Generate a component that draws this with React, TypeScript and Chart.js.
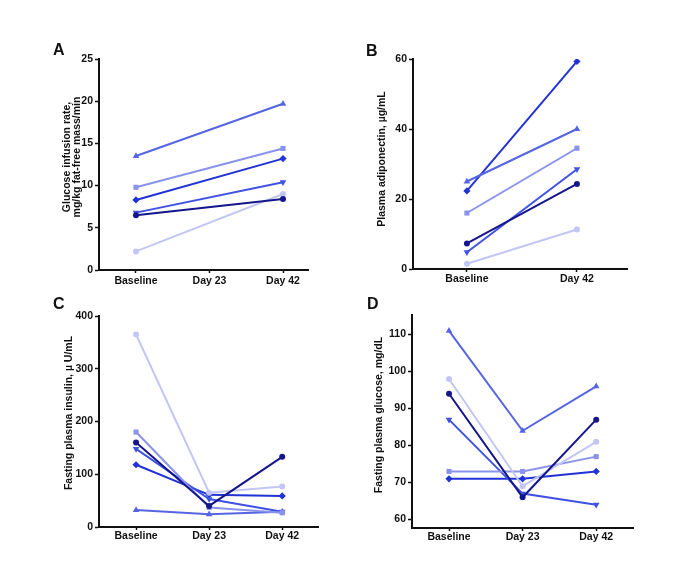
import React, { useEffect, useRef } from "react";
import { Chart, registerables } from "chart.js";

Chart.register(...registerables);

// ---------- Data ----------
const CATS_3 = ["Baseline", "Day 23", "Day 42"];
const CATS_2 = ["Baseline", "Day 42"];

const SERIES_NAMES = ["Subject 6", "Subject 1", "Subject 2", "Subject 3", "Subject 4", "Subject 5"];
const SERIES_COLORS = ["#15168c", "#c3c6f4", "#8a93ec", "#5565e3", "#3f52e4", "#2233d6"];
const SERIES_MARKERS = ["circle", "circle", "rect", "triangle", "triangle", "rectRot"];
const SERIES_ROTATION = [0, 0, 0, 0, 180, 0];
const SERIES_RADIUS = [3, 3, 3.6, 3.8, 3.8, 3.6];

// Panel A: glucose infusion rate (no Day 23 measurement)
const A_DARK = [6.5, null, 8.4];
const A_LIGHT = [2.2, null, 9.0];
const A_SQUARE = [9.8, null, 14.4];
const A_TRIUP = [13.5, null, 19.7];
const A_TRIDOWN = [6.8, null, 10.4];
const A_DIAMOND = [8.3, null, 13.2];

// Panel B: plasma adiponectin
const B_DARK = [7.3, 24.3];
const B_LIGHT = [1.5, 11.3];
const B_SQUARE = [16, 34.5];
const B_TRIUP = [25, 40];
const B_TRIDOWN = [4.8, 28.5];
const B_DIAMOND = [22.3, 59.3];

// Panel C: fasting plasma insulin
const C_DARK = [160, 40, 133];
const C_LIGHT = [365, 65, 77];
const C_SQUARE = [180, 37, 27];
const C_TRIUP = [32, 24, 29];
const C_TRIDOWN = [148, 53, 29];
const C_DIAMOND = [118, 61, 59];

// Panel D: fasting plasma glucose
const D_DARK = [94, 66, 87];
const D_LIGHT = [98, 69, 81];
const D_SQUARE = [73, 73, 77];
const D_TRIUP = [111, 84, 96];
const D_TRIDOWN = [87, 67, 64];
const D_DIAMOND = [71, 71, 73];

const A_TICKS = [0, 5, 10, 15, 20, 25];
const B_TICKS = [0, 20, 40, 60];
const C_TICKS = [0, 100, 200, 300, 400];
const D_TICKS = [60, 70, 80, 90, 100, 110];

const A_TITLE = ["Glucose infusion rate,", "mg/kg fat-free mass/min"];
const B_TITLE = ["Plasma adiponectin, µg/mL"];
const C_TITLE = ["Fasting plasma insulin, µ U/mL"];
const D_TITLE = ["Fasting plasma glucose, mg/dL"];

const FONT_FAMILY = "'Liberation Sans', Arial, Helvetica, sans-serif";

type Panel = {
  letter: string;
  cats: string[];
  series: (number | null)[][];
  yTicks: number[];
  yMin: number;
  yMax: number;
  xMin: number;
  xMax: number;
  title: string[];
  left: number;
  top: number;
  width: number;
  height: number;
  yAxisWidth: number;
  xAxisHeight: number;
  padTop: number;
  padRight: number;
  titleX: number;
  titleY: number;
  xLabelPad: number;
  letterX: number;
  letterY: number;
};

const PANELS: Panel[] = [
  {
    letter: "A",
    cats: CATS_3,
    series: [A_DARK, A_LIGHT, A_SQUARE, A_TRIUP, A_TRIDOWN, A_DIAMOND],
    yTicks: A_TICKS,
    yMin: 0,
    yMax: 25,
    xMin: -0.503,
    xMax: 2.34,
    title: A_TITLE,
    left: 0,
    top: 30,
    width: 340,
    height: 275,
    yAxisWidth: 99,
    xAxisHeight: 35,
    padTop: 29,
    padRight: 32,
    titleX: 67,
    titleY: 127,
    xLabelPad: 3,
    letterX: 53,
    letterY: 42,
  },
  {
    letter: "B",
    cats: CATS_2,
    series: [B_DARK, B_LIGHT, B_SQUARE, B_TRIUP, B_TRIDOWN, B_DIAMOND],
    yTicks: B_TICKS,
    yMin: 0,
    yMax: 60,
    xMin: -0.49,
    xMax: 1.455,
    title: B_TITLE,
    left: 330,
    top: 30,
    width: 340,
    height: 275,
    yAxisWidth: 83,
    xAxisHeight: 36,
    padTop: 29,
    padRight: 43,
    titleX: 52,
    titleY: 129,
    xLabelPad: 2,
    letterX: 366,
    letterY: 43,
  },
  {
    letter: "C",
    cats: CATS_3,
    series: [C_DARK, C_LIGHT, C_SQUARE, C_TRIUP, C_TRIDOWN, C_DIAMOND],
    yTicks: C_TICKS,
    yMin: 0,
    yMax: 400,
    xMin: -0.507,
    xMax: 2.49,
    title: C_TITLE,
    left: 0,
    top: 290,
    width: 340,
    height: 275,
    yAxisWidth: 99,
    xAxisHeight: 38,
    padTop: 26,
    padRight: 22,
    titleX: 69.5,
    titleY: 123,
    xLabelPad: 1,
    letterX: 53,
    letterY: 296,
  },
  {
    letter: "D",
    cats: CATS_3,
    series: [D_DARK, D_LIGHT, D_SQUARE, D_TRIUP, D_TRIDOWN, D_DIAMOND],
    yTicks: D_TICKS,
    yMin: 57.7,
    yMax: 115.3,
    xMin: -0.503,
    xMax: 2.5,
    title: D_TITLE,
    left: 330,
    top: 290,
    width: 345,
    height: 275,
    yAxisWidth: 82,
    xAxisHeight: 37,
    padTop: 25,
    padRight: 42,
    titleX: 49,
    titleY: 125,
    xLabelPad: 1,
    letterX: 367,
    letterY: 296,
  },
];

// Draws the rotated y-axis title centred where the reference has it
const yTitlePlugin = {
  id: "yTitle",
  afterDraw(chart: any, _args: any, opts: any) {
    const lines: string[] = opts.lines || [];
    const ctx = chart.ctx;
    ctx.save();
    ctx.translate(opts.x, opts.y);
    ctx.rotate(-Math.PI / 2);
    ctx.fillStyle = "#111";
    ctx.font = `bold 10.5px ${FONT_FAMILY}`;
    ctx.textAlign = "center";
    ctx.textBaseline = "middle";
    const lh = 10.5;
    lines.forEach((line, i) => {
      ctx.fillText(line, 0, i * lh);
    });
    ctx.restore();
  },
};

function buildConfig(p: Panel): any {
  const datasets = p.series.map((values, si) => ({
    label: SERIES_NAMES[si],
    data: values
      .map((v, i) => (v === null ? null : { x: i, y: v }))
      .filter((pt) => pt !== null),
    borderColor: SERIES_COLORS[si],
    backgroundColor: SERIES_COLORS[si],
    borderWidth: 2,
    pointStyle: SERIES_MARKERS[si],
    pointRotation: SERIES_ROTATION[si],
    pointRadius: SERIES_RADIUS[si],
    pointBorderWidth: 0,
    pointHoverRadius: SERIES_RADIUS[si],
    tension: 0,
    fill: false,
  }));

  const tickFont = { family: FONT_FAMILY, size: 10.5, weight: "bold" as const, lineHeight: 1 };

  return {
    type: "line",
    data: { datasets },
    plugins: [yTitlePlugin],
    options: {
      animation: false,
      responsive: false,
      maintainAspectRatio: false,
      devicePixelRatio: 1,
      events: [],
      layout: { padding: { top: p.padTop, right: p.padRight, left: 0, bottom: 0 } },
      plugins: {
        legend: { display: false },
        tooltip: { enabled: false },
        title: { display: false },
        yTitle: { lines: p.title, x: p.titleX, y: p.titleY },
      },
      scales: {
        x: {
          type: "linear",
          min: p.xMin,
          max: p.xMax,
          afterBuildTicks: (scale: any) => {
            scale.ticks = p.cats.map((_, i) => ({ value: i }));
          },
          afterFit: (scale: any) => {
            scale.height = p.xAxisHeight;
            scale.paddingLeft = 0;
            scale.paddingRight = 0;
          },
          ticks: {
            color: "#111",
            font: tickFont,
            padding: p.xLabelPad,
            autoSkip: false,
            maxRotation: 0,
            minRotation: 0,
            callback: (v: number) => p.cats[Math.round(v)] ?? "",
          },
          grid: {
            display: true,
            drawOnChartArea: false,
            drawTicks: true,
            tickLength: 3,
            tickWidth: 1.5,
            tickColor: "#111",
          },
          border: { display: true, color: "#111", width: 2 },
        },
        y: {
          type: "linear",
          min: p.yMin,
          max: p.yMax,
          afterBuildTicks: (scale: any) => {
            scale.ticks = p.yTicks.map((v) => ({ value: v }));
          },
          afterFit: (scale: any) => {
            scale.width = p.yAxisWidth;
            scale.paddingTop = 0;
            scale.paddingBottom = 0;
          },
          ticks: {
            color: "#111",
            font: tickFont,
            padding: 2,
            autoSkip: false,
          },
          grid: {
            display: true,
            drawOnChartArea: false,
            drawTicks: true,
            tickLength: 4,
            tickWidth: 1.5,
            tickColor: "#111",
          },
          border: { display: true, color: "#111", width: 2 },
          title: { display: false },
        },
      },
    },
  };
}

function PanelChart({ panel }: { panel: Panel }) {
  const ref = useRef<HTMLCanvasElement | null>(null);
  useEffect(() => {
    if (!ref.current) return;
    const chart = new Chart(ref.current, buildConfig(panel));
    return () => chart.destroy();
  }, [panel]);
  return (
    <canvas
      ref={ref}
      width={panel.width}
      height={panel.height}
      style={{
        position: "absolute",
        left: panel.left,
        top: panel.top,
        width: panel.width,
        height: panel.height,
      }}
    />
  );
}

export default function App() {
  return (
    <div
      style={{
        position: "absolute",
        left: 0,
        top: 0,
        width: 685,
        height: 584,
        background: "#ffffff",
        overflow: "hidden",
      }}
    >
      {PANELS.map((p) => (
        <PanelChart key={p.letter} panel={p} />
      ))}
      {PANELS.map((p) => (
        <div
          key={"l" + p.letter}
          style={{
            position: "absolute",
            left: p.letterX,
            top: p.letterY,
            fontFamily: FONT_FAMILY,
            fontWeight: "bold",
            fontSize: 16,
            lineHeight: 1,
            color: "#111",
          }}
        >
          {p.letter}
        </div>
      ))}
    </div>
  );
}
